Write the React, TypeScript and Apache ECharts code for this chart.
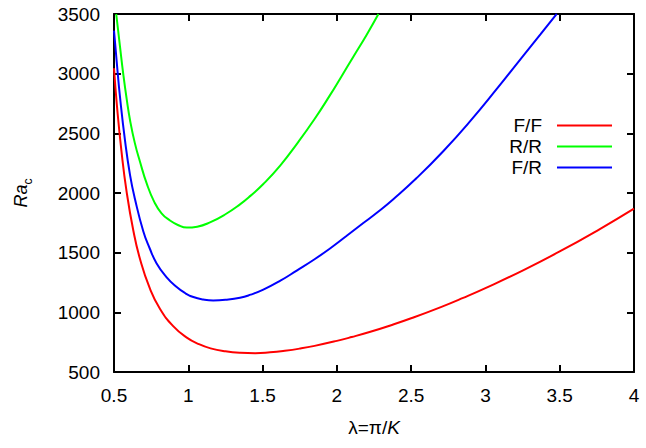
import React, { useEffect, useRef } from "react";
import * as echarts from "echarts";

const seriesNames = ["F/F", "R/R", "F/R"];
const seriesColors = ["#ff0000", "#00ff00", "#0000ff"];

const ffLambda = [0.5, 0.52, 0.55, 0.585, 0.63, 0.675, 0.74, 0.81, 0.9, 0.99, 1.07, 1.15, 1.25, 1.35, 1.45, 1.55, 1.65, 1.75, 1.85, 2.0, 2.1, 2.22, 2.36, 2.5, 2.7, 2.85, 3.0, 3.25, 3.5, 3.77, 4.0];
const ffRa = [3045, 2728, 2353, 2010, 1686, 1447, 1204, 1028, 882, 788, 734, 698, 673, 661, 658, 665, 678, 696, 719, 761, 793, 835, 890, 950, 1044, 1121, 1203, 1350, 1510, 1698, 1869];

const rrLambda = [0.515, 0.54, 0.563, 0.585, 0.608, 0.64, 0.675, 0.72, 0.77, 0.82, 0.877, 0.93, 0.99, 1.06, 1.146, 1.25, 1.348, 1.42, 1.505, 1.62, 1.73, 1.85, 1.954, 2.03, 2.11, 2.2, 2.28];
const rrRa = [3500, 3230, 2990, 2790, 2610, 2420, 2262, 2080, 1928, 1830, 1770, 1732, 1710, 1718, 1754, 1822, 1905, 1978, 2075, 2232, 2410, 2620, 2820, 2975, 3140, 3325, 3500];

const frLambda = [0.5, 0.52, 0.54, 0.574, 0.608, 0.641, 0.697, 0.74, 0.787, 0.85, 0.922, 0.98, 1.034, 1.1, 1.168, 1.25, 1.348, 1.42, 1.505, 1.62, 1.73, 1.85, 1.954, 2.06, 2.178, 2.28, 2.38, 2.537, 2.716, 2.896, 3.075, 3.254, 3.37, 3.48];
const frRa = [3360, 3075, 2810, 2440, 2150, 1950, 1680, 1537, 1410, 1300, 1212, 1160, 1128, 1108, 1100, 1105, 1122, 1148, 1190, 1265, 1350, 1445, 1535, 1635, 1748, 1845, 1948, 2125, 2350, 2600, 2870, 3150, 3330, 3502];

const xMin = 0.5, xMax = 4, xStep = 0.5;
const yMin = 500, yMax = 3500, yStep = 500;

const FONT = "'Liberation Sans', Arial, Helvetica, sans-serif";

function zip(xs: number[], ys: number[]) {
  return xs.map((x, i) => [x, ys[i]]);
}

export default function App() {
  const ref = useRef<HTMLDivElement>(null);
  useEffect(() => {
    if (!ref.current) return;
    const chart = echarts.init(ref.current, undefined, { renderer: "svg" });
    const axisLine = { show: true, onZero: false, lineStyle: { color: "#000", width: 2 } };
    const axisTick = { show: true, inside: true, length: 7, lineStyle: { color: "#000", width: 2 } };
    const label = { color: "#000", fontSize: 19, fontFamily: FONT };
    const data = [zip(ffLambda, ffRa), zip(rrLambda, rrRa), zip(frLambda, frRa)];
    chart.setOption({
      animation: false,
      backgroundColor: "#fff",
      textStyle: { fontFamily: FONT },
      grid: { left: 114, right: 12, top: 14, bottom: 76 },
      legend: {
        orient: "vertical",
        right: 29,
        top: 111,
        align: "right",
        itemWidth: 55,
        itemHeight: 2,
        itemGap: 2,
        icon: "rect",
        textStyle: { color: "#000", fontSize: 19, fontFamily: FONT, padding: [0, 10, 0, 0] },
        data: seriesNames,
      },
      xAxis: [
        {
          type: "value", position: "bottom", min: xMin, max: xMax, interval: xStep,
          axisLine, axisTick, splitLine: { show: false },
          axisLabel: { ...label, margin: 14, showMinLabel: true, showMaxLabel: true, formatter: (v: number) => String(v) },
          name: "{n|λ=π/}{k|K}",
          nameLocation: "middle",
          nameGap: 46,
          nameTextStyle: {
            rich: {
              n: { fontSize: 19, color: "#000", fontFamily: FONT },
              k: { fontSize: 19, color: "#000", fontFamily: FONT, fontStyle: "italic" },
            },
          },
        },
        {
          type: "value", position: "top", min: xMin, max: xMax, interval: xStep,
          axisLine, axisTick, axisLabel: { show: false }, splitLine: { show: false },
        },
      ],
      yAxis: [
        {
          type: "value", position: "left", min: yMin, max: yMax, interval: yStep,
          axisLine, axisTick, splitLine: { show: false },
          axisLabel: { ...label, margin: 14, formatter: (v: number) => String(v) },
          name: "{r|Ra}{c|c}",
          nameLocation: "middle",
          nameRotate: 90,
          nameGap: 84,
          nameTextStyle: {
            rich: {
              r: { fontSize: 18, color: "#000", fontFamily: FONT, fontStyle: "italic" },
              c: { fontSize: 12, color: "#000", fontFamily: FONT, verticalAlign: "bottom", padding: [0, 0, -4, 0] },
            },
          },
        },
        {
          type: "value", position: "right", min: yMin, max: yMax, interval: yStep,
          axisLine, axisTick, axisLabel: { show: false }, splitLine: { show: false },
        },
      ],
      series: seriesNames.map((name, i) => ({
        name,
        type: "line",
        data: data[i],
        showSymbol: false,
        smooth: 0.5,
        clip: true,
        color: seriesColors[i],
        lineStyle: { color: seriesColors[i], width: 2 },
        xAxisIndex: 0,
        yAxisIndex: 0,
      })),
    });
    return () => chart.dispose();
  }, []);
  return <div ref={ref} style={{ width: 646, height: 448, position: "absolute", left: 0, top: 0 }} />;
}
